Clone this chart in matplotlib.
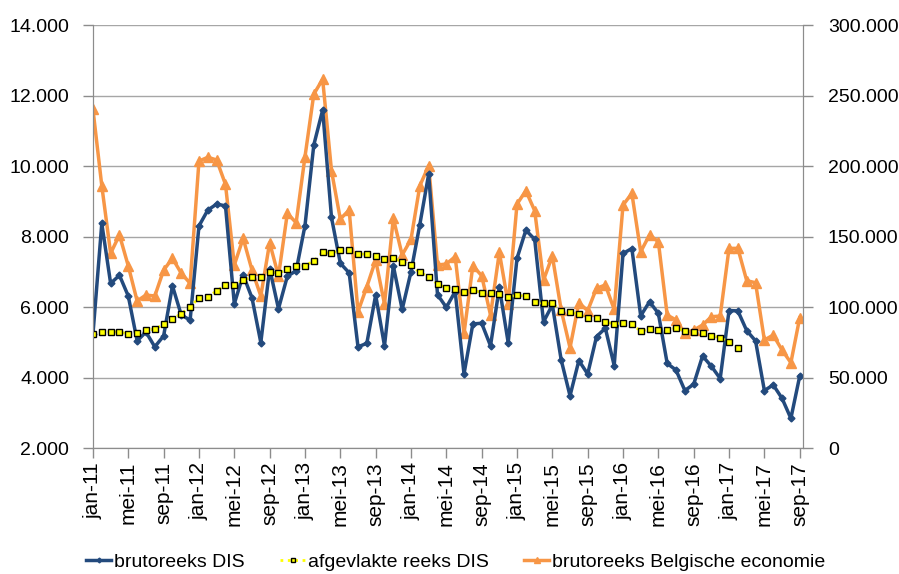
import numpy as np
import matplotlib
matplotlib.use('Agg')
import matplotlib.pyplot as plt
from matplotlib.ticker import FuncFormatter

plt.rcParams['font.family'] = ['Liberation Sans', 'DejaVu Sans']

# maandelijkse reeksen jan-11 .. sep-17
tick_labels = ['jan-11', 'mei-11', 'sep-11', 'jan-12', 'mei-12', 'sep-12', 'jan-13',
               'mei-13', 'sep-13', 'jan-14', 'mei-14', 'sep-14', 'jan-15', 'mei-15',
               'sep-15', 'jan-16', 'mei-16', 'sep-16', 'jan-17', 'mei-17', 'sep-17']

bruto_dis = [5230, 8370, 6670, 6900, 6310, 5040, 5290, 4870, 5180, 6600, 5770, 5630,
             8300, 8750, 8920, 8870, 6090, 6910, 6260, 4990, 7090, 5950, 6870, 7030,
             8310, 10600, 11590, 8540, 7240, 6970, 4870, 4970, 6340, 4900, 7170, 5930,
             7000, 8340, 9770, 6350, 5990, 6440, 4100, 5520, 5540, 4900, 6560, 4990,
             7380, 8180, 7920, 5580, 6060, 4500, 3480, 4480, 4100, 5160, 5400, 4340,
             7520, 7660, 5750, 6150, 5820, 4400, 4210, 3630, 3810, 4610, 4320, 3970,
             5900, 5890, 5330, 5040, 3630, 3790, 3410, 2840, 4040]

afgevlakt_dis = [5230, 5290, 5290, 5290, 5240, 5270, 5350, 5370, 5510, 5660, 5810, 6000,
                 6260, 6280, 6460, 6620, 6620, 6770, 6840, 6860, 7000, 6960, 7070, 7160,
                 7170, 7310, 7550, 7520, 7630, 7630, 7500, 7500, 7450, 7370, 7390, 7290,
                 7190, 6980, 6860, 6650, 6550, 6510, 6440, 6480, 6410, 6400, 6360, 6290,
                 6330, 6310, 6150, 6100, 6100, 5890, 5870, 5790, 5680, 5680, 5580, 5520,
                 5560, 5510, 5320, 5370, 5350, 5350, 5400, 5330, 5300, 5270, 5190, 5130,
                 5000, 4850]

bruto_be = [240200, 186000, 138100, 151100, 129100, 104300, 108500, 107800, 126200, 134500, 123900, 116800,
            203500, 206200, 204300, 187000, 129800, 148700, 126200, 107800, 145600, 122000, 166400, 159800,
            206600, 251000, 261500, 196700, 162400, 168800, 96700, 114400, 133300, 102100, 162900, 136900,
            148000, 186000, 200200, 129800, 130500, 135700, 81300, 129300, 122200, 94300, 138800, 102100,
            173000, 182500, 168300, 119100, 136200, 97900, 71100, 103000, 97400, 113300, 115600, 98300,
            172300, 180600, 139200, 151100, 146300, 94300, 90800, 81300, 83700, 87200, 93100, 93600,
            141600, 141600, 118700, 117200, 76600, 80100, 69500, 60500, 92400]

x = np.arange(len(bruto_dis))
x_smooth = np.arange(len(afgevlakt_dis))

fig, ax = plt.subplots(figsize=(8.99, 5.74), dpi=100)
fig.subplots_adjust(left=0.1034, right=0.893, top=0.9564, bottom=0.2195)
ax2 = ax.twinx()

# orange series sits behind the DIS series
ax.set_zorder(ax2.get_zorder() + 1)
ax.patch.set_visible(False)

l3, = ax2.plot(x, bruto_be, color='#F79646', lw=2.5, marker='^', markersize=6.5,
               label='brutoreeks Belgische economie')
l1, = ax.plot(x, bruto_dis, color='#234A7D', lw=2.5, marker='D', markersize=3.5,
              label='brutoreeks DIS')
l2, = ax.plot(x_smooth, afgevlakt_dis, color='#FFFF00', lw=2, ls=':', marker='s',
              markersize=4.5, markerfacecolor='#FFFF00', markeredgecolor='black',
              markeredgewidth=1, label='afgevlakte reeks DIS')

ax.set_xlim(0, 80.35)
ax.set_ylim(2000, 14000)
ax2.set_ylim(0, 300000)
ax.set_yticks(range(2000, 14001, 2000))
ax2.set_yticks(range(0, 300001, 50000))
ax.yaxis.set_major_formatter(FuncFormatter(lambda v, p: f'{int(v):,}'.replace(',', '.')))
ax2.yaxis.set_major_formatter(FuncFormatter(lambda v, p: f'{int(v):,}'.replace(',', '.')))

ax.set_xticks(range(0, 81, 4))
ax.set_xticklabels(tick_labels, rotation=90)

ax2.grid(axis='y', color='#A6A6A6', lw=1)
ax2.set_axisbelow(True)

for a in (ax, ax2):
    for s in a.spines.values():
        s.set_color('#8C8C8C')
    a.spines['top'].set_visible(False)
    a.tick_params(colors='#8C8C8C', labelcolor='black', labelsize=14, length=7, width=1)

ax.tick_params(axis='x', labelsize=15, pad=3)
ax.tick_params(axis='y', pad=10)
ax2.tick_params(axis='y', pad=11)

fig.legend(handles=[l1, l2, l3], loc='center', bbox_to_anchor=(0.507, 0.021), ncol=3,
           frameon=False, fontsize=14, handlelength=1.3, handletextpad=0.15,
           columnspacing=1.8, markerscale=0.7)

fig.savefig('out.png', dpi=100)
